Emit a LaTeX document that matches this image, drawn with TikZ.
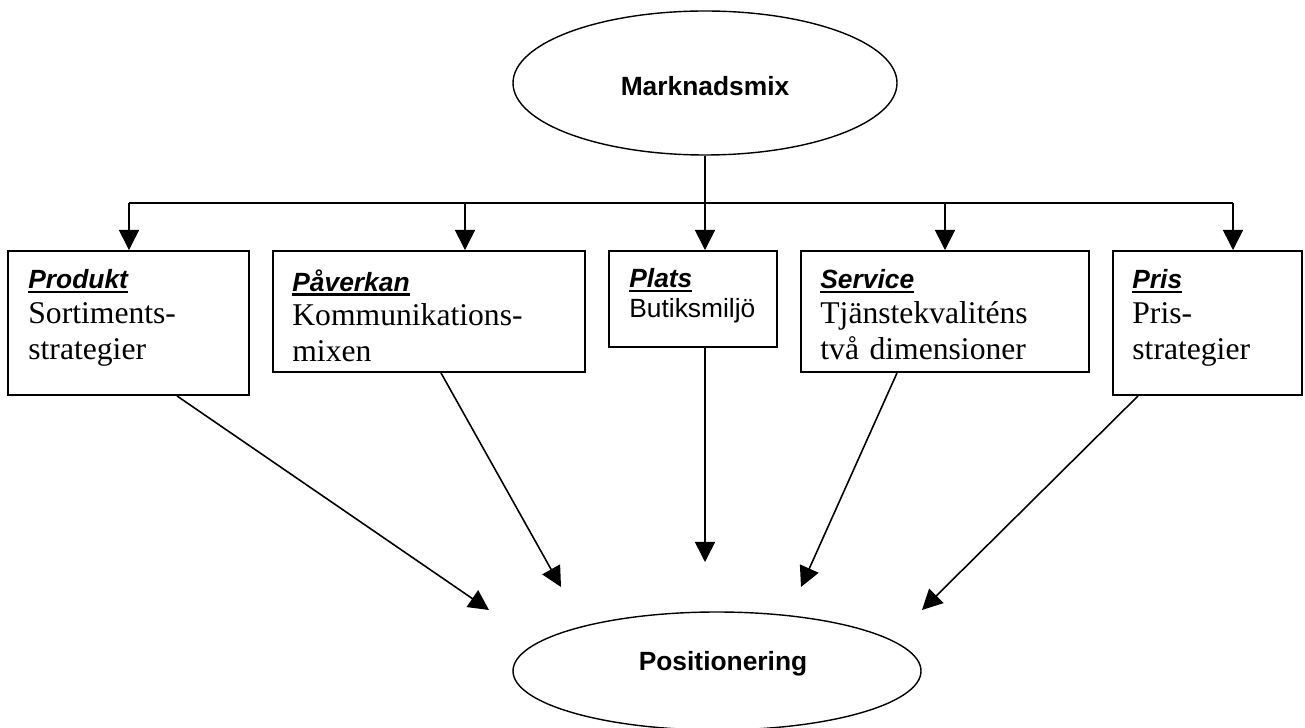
\documentclass[tikz,border=0pt]{standalone}
\usepackage{fontspec}
\setmainfont{Liberation Serif}
\setsansfont{Liberation Sans}
\usetikzlibrary{shapes.geometric, arrows.meta}
\tikzstyle{goal} = [ellipse, draw, line width=0.8pt, inner sep=2pt, font={\sffamily\bfseries\fontsize{15}{18}\selectfont}]
\tikzstyle{area} = [rectangle, draw, line width=1.1pt, inner sep=0pt]
\tikzstyle{areatext} = [anchor=north west, inner sep=0pt, text width=5.5cm, align=left, font={\fontsize{18}{20.5}\selectfont}]
\tikzstyle{line} = [line width=0.9pt]
\tikzstyle{arrow} = [line width=0.9pt, -{Triangle[length=11.5pt, width=11.5pt]}]
\newsavebox{\headbox}
\newcommand{\areahead}[1]{\sbox{\headbox}{\sffamily\bfseries\itshape\fontsize{15}{17}\selectfont #1}\rlap{\rule[-2.3pt]{\wd\headbox}{1.4pt}}\usebox{\headbox}}

\begin{document}
\begin{tikzpicture}
    \useasboundingbox (0,0) rectangle (26.1,-14.56);

    % Top and bottom
    \node[goal, minimum width=7.68cm, minimum height=2.88cm, text height=14.8pt, text depth=0pt] (mix) at (14.1,-1.66) {Marknadsmix};
    \node[goal, minimum width=8.16cm, minimum height=2.36cm, text depth=11.8pt] (pos) at (14.34,-13.42) {\hspace*{0.24cm}Positionering};

    % The five areas
    \node[area, minimum width=4.82cm, minimum height=2.88cm] (produkt) at (2.57,-6.46) {};
    \node[area, minimum width=6.24cm, minimum height=2.42cm] (paverkan) at (8.58,-6.23) {};
    \node[area, minimum width=3.36cm, minimum height=1.92cm] (plats) at (13.86,-5.98) {};
    \node[area, minimum width=5.76cm, minimum height=2.42cm] (service) at (18.9,-6.23) {};
    \node[area, minimum width=3.78cm, minimum height=2.88cm] (pris) at (24.15,-6.46) {};

    \node[areatext] (produkttxt) at ([xshift=0.42cm, yshift=-0.39cm]produkt.north west) {\areahead{Produkt}\\[-1pt]Sortiments-\\strategier};
    \node[areatext] (paverkantxt) at ([xshift=0.4cm, yshift=-0.39cm]paverkan.north west) {\areahead{Påverkan}\\[-1pt]Kommunikations-\\mixen};
    \node[areatext, font={\sffamily\fontsize{15}{17}\selectfont}] (platstxt) at ([xshift=0.42cm, yshift=-0.37cm]plats.north west) {\areahead{Plats}\\Butiksmiljö};
    \node[areatext] (servicetxt) at ([xshift=0.4cm, yshift=-0.39cm]service.north west) {\areahead{Service}\\[-1pt]Tjänstekvaliténs\\två dimensioner};
    \node[areatext] (pristxt) at ([xshift=0.4cm, yshift=-0.39cm]pris.north west) {\areahead{Pris}\\[-1pt]Pris-\\strategier};

    % Branch points on the bus
    \coordinate (bus1) at (2.58,-4.06);
    \coordinate (bus2) at (9.3,-4.06);
    \coordinate (bus4) at (18.9,-4.06);
    \coordinate (bus5) at (24.66,-4.06);

    % Free ends above Positionering
    \coordinate (in1) at (9.78,-12.2);
    \coordinate (in2) at (11.22,-11.74);
    \coordinate (in3) at (14.1,-11.24);
    \coordinate (in4) at (16.02,-11.74);
    \coordinate (in5) at (18.44,-12.2);

    % Arrows
    \draw[line] (bus1) -- (bus5);
    \draw[arrow] (mix) -- (mix |- plats.north);
    \draw[arrow] (bus1) -- (bus1 |- produkt.north);
    \draw[arrow] (bus2) -- (bus2 |- paverkan.north);
    \draw[arrow] (bus4) -- (bus4 |- service.north);
    \draw[arrow] (bus5) -- (bus5 |- pris.north);
    \draw[arrow] ([xshift=0.97cm]produkt.south) -- (in1);
    \draw[arrow] ([xshift=0.24cm]paverkan.south) -- (in2);
    \draw[arrow] ([xshift=0.24cm]plats.south) -- (in3);
    \draw[arrow] ([xshift=-0.96cm]service.south) -- (in4);
    \draw[arrow] ([xshift=-1.39cm]pris.south) -- (in5);
\end{tikzpicture}
\end{document}
